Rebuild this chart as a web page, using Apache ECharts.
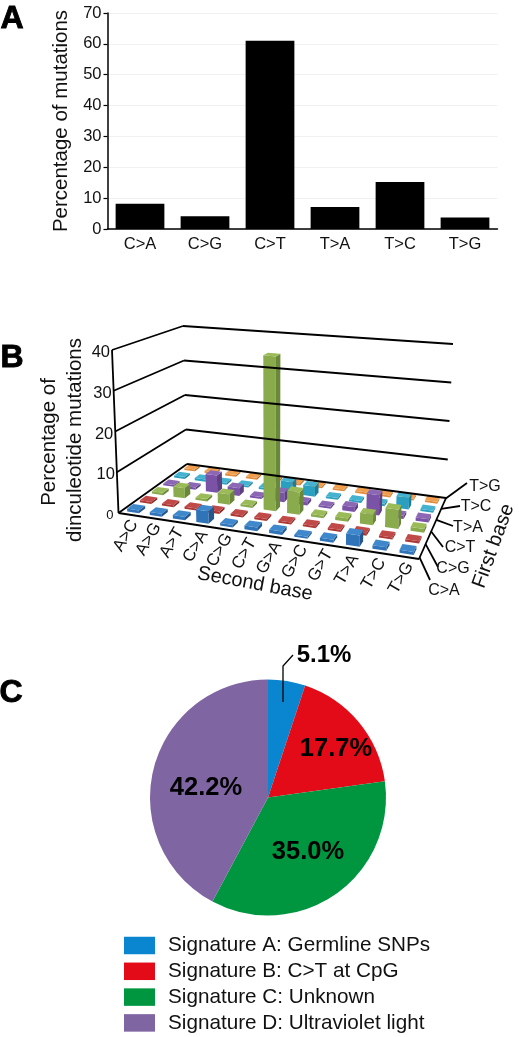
<!DOCTYPE html>
<html>
<head>
<meta charset="utf-8">
<title>Mutation spectra</title>
<script src="https://cdn.jsdelivr.net/npm/echarts@6/dist/echarts.min.js"></script>
<style>
  html, body { margin: 0; padding: 0; background: #fff; }
  #chart { width: 519px; height: 1037px; }
</style>
</head>
<body>
<div id="chart"></div>
<script>
var FONT = '"Liberation Sans", Arial, sans-serif';

// panel A
var mutationTypes = ['C>A', 'C>G', 'C>T', 'T>A', 'T>C', 'T>G'];
var mutationPercent = [8.2, 4.1, 61, 7.1, 15.2, 3.7];

// panel B, one list per first base, values follow secondBase
var secondBase = ['A>C', 'A>G', 'A>T', 'C>A', 'C>G', 'C>T', 'G>A', 'G>C', 'G>T', 'T>A', 'T>C', 'T>G'];
var firstBase = ['C>A', 'C>G', 'C>T', 'T>A', 'T>C', 'T>G'];
var firstCA = [0.7, 0.7, 0.8, 3.0, 0.6, 0.9, 0.8, 0.5, 0.7, 2.6, 0.8, 0.7];
var firstCG = [0.5, 0.5, 0.5, 0.6, 0.5, 0.5, 0.5, 0.5, 0.5, 0.6, 0.5, 0.5];
var firstCT = [0.6, 2.6, 0.6, 2.6, 0.6, 38.5, 5.5, 0.6, 0.8, 2.6, 4.6, 0.9];
var firstTA = [0.5, 0.6, 4.5, 2.0, 0.5, 2.4, 0.8, 0.5, 1.2, 5.0, 0.7, 0.8];
var firstTC = [0.5, 0.6, 0.5, 0.5, 0.5, 3.0, 2.6, 0.5, 0.5, 0.6, 3.0, 0.5];
var firstTG = [0.5, 0.5, 0.5, 0.5, 0.5, 0.5, 0.5, 0.5, 0.5, 0.5, 0.5, 0.5];
var firstBaseValues = [firstCA, firstCG, firstCT, firstTA, firstTC, firstTG];
var depthTicks = [0, 10, 20, 30, 40];

// panel C
var signatureNames = ['Signature A: Germline SNPs', 'Signature B: C>T at CpG', 'Signature C: Unknown', 'Signature D: Ultraviolet light'];
var signaturePercent = [5.1, 17.7, 35.0, 42.2];

// box colours per first base: front, right side, top
var rowColors = [
  ['#2f73b8', '#23588f', '#3f88cc'],
  ['#ad3735', '#862827', '#c04a48'],
  ['#8aab4c', '#6b873a', '#9bbb59'],
  ['#7a52a6', '#5e3f80', '#8c68b4'],
  ['#2b9fc0', '#207c97', '#45b2cf'],
  ['#e08c3a', '#b8702b', '#f09f50']
];
var pieColors = ['#0a86d0', '#e30b17', '#009640', '#8065a3'];

// frame of the 3D panel: floor corners (front left, front right, back right, back left)
// and how far each corner moves when height goes from 0 to 40
var floorQuad = [[118.5, 513], [419, 559], [446, 498], [187, 464]];
var riseAtCorner = [[-6.5, -163], [6, -178], [7, -154], [-4, -138]];
var hiddenGrid = { left: 118, top: 350, width: 300, height: 163 };

function quadMap(q) {
  var x0 = q[0][0], y0 = q[0][1], x1 = q[1][0], y1 = q[1][1];
  var x2 = q[2][0], y2 = q[2][1], x3 = q[3][0], y3 = q[3][1];
  var dx1 = x1 - x2, dx2 = x3 - x2, sx = x0 - x1 + x2 - x3;
  var dy1 = y1 - y2, dy2 = y3 - y2, sy = y0 - y1 + y2 - y3;
  var den = dx1 * dy2 - dx2 * dy1;
  var g = (sx * dy2 - dx2 * sy) / den;
  var h = (dx1 * sy - sx * dy1) / den;
  var a = x1 - x0 + g * x1, b = x3 - x0 + h * x3;
  var d = y1 - y0 + g * y1, e = y3 - y0 + h * y3;
  return function (u, v) {
    var w = g * u + h * v + 1;
    return [(a * u + b * v + x0) / w, (d * u + e * v + y0) / w];
  };
}
var floorAt = quadMap(floorQuad);

// u along second base, v along first base, t = height / 40
function project(u, v, t) {
  var p = floorAt(u, v), r = riseAtCorner;
  function rise(k) {
    return (1 - u) * (1 - v) * r[0][k] + u * (1 - v) * r[1][k] + u * v * r[2][k] + (1 - u) * v * r[3][k];
  }
  return [p[0] + rise(0) * t, p[1] + rise(1) * t];
}

// back rows first so nearer boxes paint over them
var boxData = [];
for (var j = firstBase.length - 1; j >= 0; j--) {
  for (var i = 0; i < secondBase.length; i++) {
    boxData.push([i, firstBaseValues[j][i], j]);
  }
}

function renderBox(params, api) {
  var col = api.value(0), val = api.value(1), row = api.value(2);
  // run the values through the hidden axes, then into the skewed frame
  var a = api.coord([col + 0.24, val]);
  var b = api.coord([col + 0.76, 0]);
  var u0 = (a[0] - hiddenGrid.left) / hiddenGrid.width;
  var u1 = (b[0] - hiddenGrid.left) / hiddenGrid.width;
  var t = (b[1] - a[1]) / hiddenGrid.height;
  var v0 = (row + 0.25) / 6, v1 = (row + 0.75) / 6;
  var c = rowColors[row];
  function poly(points, fill) {
    return { type: 'polygon', shape: { points: points }, style: { fill: fill }, silent: true };
  }
  return {
    type: 'group',
    children: [
      poly([project(u0, v0, 0), project(u1, v0, 0), project(u1, v0, t), project(u0, v0, t)], c[0]),
      poly([project(u1, v0, 0), project(u1, v1, 0), project(u1, v1, t), project(u1, v0, t)], c[1]),
      poly([project(u0, v0, t), project(u1, v0, t), project(u1, v1, t), project(u0, v1, t)], c[2])
    ]
  };
}

function text(str, x, y, size, opt) {
  opt = opt || {};
  return {
    type: 'text', x: x, y: y, rotation: (opt.angle || 0) * Math.PI / 180, silent: true, z: 10,
    style: {
      text: str, fill: opt.bold ? '#000' : '#111', font: (opt.bold ? 'bold ' : '') + size + 'px ' + FONT,
      stroke: opt.bold ? '#000' : null, lineWidth: opt.bold ? 0.9 : 0,
      align: opt.align || 'center', verticalAlign: 'middle'
    }
  };
}
function line(a, b, width) {
  return {
    type: 'line', silent: true, z: 5,
    shape: { x1: a[0], y1: a[1], x2: b[0], y2: b[1] },
    style: { stroke: '#000', lineWidth: width || 1.8 }
  };
}

var graphics = [];
graphics.push(text('A', 12, 19, 32, { bold: true }));
graphics.push(text('B', 12, 358, 32, { bold: true }));
graphics.push(text('C', 11, 693, 32, { bold: true }));

// walls and floor outline
depthTicks.forEach(function (tick) {
  var t = tick / 40;
  graphics.push(line(project(0, 0, t), project(0, 1, t)));
  graphics.push(line(project(0, 1, t), project(1, 1, t)));
});
graphics.push(line(project(0, 0, 0), project(0, 0, 1)));
graphics.push(line(project(0, 0, 0), project(1, 0, 0)));
graphics.push(line(project(1, 0, 0), project(1, 1, 0)));

// height labels next to the slanted axis
depthTicks.forEach(function (tick) {
  var p = project(0, 0, tick / 40);
  graphics.push(text(String(tick), p[0] - (tick === 0 ? 5 : 2), p[1] + 2.5, tick === 0 ? 13 : 16.5, { align: 'right' }));
});

// second base labels hang off the front edge
secondBase.forEach(function (name, idx) {
  var p = project((idx + 0.5) / 12, 0, 0);
  graphics.push(text(name, p[0] - 4, p[1] + 21, 17, { angle: 60 }));
});

// first base labels and their leaders
var leaderEnds = [[430, 580], [438, 567], [443, 547], [453, 526], [460, 506], [467, 483]];
var firstLabelAt = [[444, 591], [453, 569], [460, 548], [468, 528], [476, 507], [485, 487]];
firstBase.forEach(function (name, idx) {
  graphics.push(line(project(1, idx / 5 * 0.97 + 0.02, 0), leaderEnds[idx]));
  graphics.push(text(name, firstLabelAt[idx][0], firstLabelAt[idx][1], 16));
});

graphics.push(text('Percentage of', 49, 442, 20.5, { angle: 90 }));
graphics.push(text('dinculeotide mutations', 75, 440, 20.5, { angle: 90 }));
graphics.push(text('Second base', 255, 584, 20, { angle: -10.5 }));
graphics.push(text('First base', 493.5, 546, 20, { angle: 70 }));

// leader of the small pie slice
graphics.push({
  type: 'polyline', silent: true, z: 5,
  shape: { points: [[283, 702], [283, 666], [293, 655]] },
  style: { stroke: '#000', lineWidth: 1.3, fill: 'none' }
});

var pieLabelAt = [[324, 655], [336, 749], [308, 852], [206, 788]];
var pieLabelSize = [24, 25.5, 25.5, 25.5];

var chart = echarts.init(document.getElementById('chart'), null, { renderer: 'canvas' });
chart.setOption({
  animation: false,
  backgroundColor: '#fff',
  textStyle: { fontFamily: FONT },
  grid: [
    { left: 107.5, top: 13, width: 390, height: 216 },
    { left: hiddenGrid.left, top: hiddenGrid.top, width: hiddenGrid.width, height: hiddenGrid.height, show: false }
  ],
  xAxis: [
    {
      gridIndex: 0, type: 'category', data: mutationTypes,
      axisLine: { lineStyle: { color: '#000', width: 1.5 } },
      axisTick: { show: false },
      axisLabel: { color: '#111', fontSize: 16.5, margin: 7, interval: 0, fontFamily: FONT }
    },
    { gridIndex: 1, type: 'value', min: 0, max: 12, show: false }
  ],
  yAxis: [
    {
      gridIndex: 0, type: 'value', min: 0, max: 70, interval: 10,
      name: 'Percentage of mutations', nameLocation: 'middle', nameGap: 29,
      nameTextStyle: { color: '#111', fontSize: 20.5, fontFamily: FONT },
      axisLine: { show: true, lineStyle: { color: '#000', width: 1.5 } },
      axisTick: { show: true, length: 4, lineStyle: { color: '#000', width: 1.2 } },
      axisLabel: { color: '#111', fontSize: 16.5, margin: 6, fontFamily: FONT },
      splitLine: { lineStyle: { color: '#f1f1f1', width: 1 } }
    },
    { gridIndex: 1, type: 'value', min: 0, max: 40, show: false }
  ],
  legend: {
    orient: 'vertical', left: 124, top: 935, height: 102, padding: 0,
    itemWidth: 31, itemHeight: 17.5, itemGap: 4.8,
    data: signatureNames, selectedMode: false, icon: 'rect',
    textStyle: { color: '#111', fontSize: 20.7, padding: [0, 0, 0, 8], fontFamily: FONT }
  },
  graphic: { elements: graphics },
  series: [
    {
      type: 'bar', xAxisIndex: 0, yAxisIndex: 0, data: mutationPercent,
      barCategoryGap: '25%', itemStyle: { color: '#000' }, silent: true
    },
    {
      type: 'custom', xAxisIndex: 1, yAxisIndex: 1, data: boxData, clip: false, silent: true,
      encode: { x: 0, y: 1 }, renderItem: renderBox
    },
    {
      type: 'pie', center: [268, 797.5], radius: 118, startAngle: 90, silent: true,
      data: signatureNames.map(function (n, k) {
        return {
          name: n, value: signaturePercent[k], itemStyle: { color: pieColors[k] },
          label: { fontSize: pieLabelSize[k] }
        };
      }),
      label: {
        show: true, position: 'inside', color: '#000', fontWeight: 'bold', fontFamily: FONT,
        formatter: function (p) { return p.value.toFixed(1) + '%'; }
      },
      labelLine: { show: false },
      labelLayout: function (p) {
        return { x: pieLabelAt[p.dataIndex][0], y: pieLabelAt[p.dataIndex][1], align: 'center', verticalAlign: 'middle', hideOverlap: false };
      }
    }
  ]
});
</script>
</body>
</html>
